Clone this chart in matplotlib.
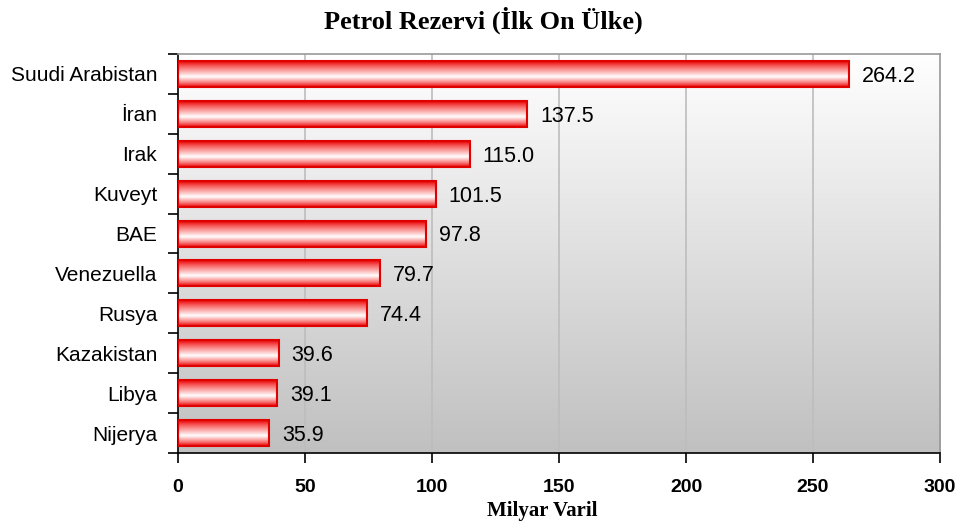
import numpy as np
import matplotlib
matplotlib.use("Agg")
import matplotlib.pyplot as plt
from matplotlib.colors import LinearSegmentedColormap
from matplotlib.patches import Rectangle

countries = ["Suudi Arabistan", "İran", "Irak", "Kuveyt", "BAE", "Venezuella",
             "Rusya", "Kazakistan", "Libya", "Nijerya"]
values = [264.2, 137.5, 115.0, 101.5, 97.8, 79.7, 74.4, 39.6, 39.1, 35.9]
xticks = [0, 50, 100, 150, 200, 250, 300]
title = "Petrol Rezervi (İlk On Ülke)"
xlabel = "Milyar Varil"

fig = plt.figure(figsize=(9.6, 5.22), dpi=100)
ax = fig.add_axes([0.1854, 0.1322, 0.7938, 0.7644])

n = len(countries)
ypos = np.arange(n)
ax.set_xlim(0, 300)
ax.set_ylim(n - 0.5, -0.5)

# background gradient
bg = LinearSegmentedColormap.from_list("bg", ["#ffffff", "#c0c0c0"])
grad = np.linspace(0, 1, 256).reshape(-1, 1)
ax.imshow(grad, cmap=bg, aspect="auto", extent=[0, 300, n - 0.5, -0.5],
          zorder=0, interpolation="bicubic")

for xv in xticks[1:-1]:
    ax.axvline(xv, color="#bdbdbd", lw=1.2, zorder=1)

bar_cmap = LinearSegmentedColormap.from_list(
    "bar", [(0, "#e80000"), (0.2, "#f86060"), (0.6, "#ffffff"), (0.85, "#f87070"), (1, "#e80000")])
bars = ax.barh(ypos, values, height=0.65, color="none", edgecolor="#e00000",
               lw=1.5, zorder=3)
for b in bars:
    x0, y0 = b.get_x(), b.get_y()
    w, h = b.get_width(), b.get_height()
    im = ax.imshow(grad, cmap=bar_cmap, aspect="auto",
                   extent=[x0, x0 + w, y0 + h, y0], zorder=2, interpolation="bicubic")
    im.set_clip_path(Rectangle((x0, y0), w, h, transform=ax.transData))

for y, v in zip(ypos, values):
    ax.text(v + 5.0, y + 0.06, f"{v:.1f}", va="center", ha="left",
            fontsize=15.5, family="Liberation Sans", zorder=4)

ax.set_xlim(0, 300)
ax.set_ylim(n - 0.5, -0.5)

ax.set_xticks(xticks)
ax.set_xticklabels([str(t) for t in xticks], fontsize=14, fontweight="bold",
                   family="Liberation Sans")
ax.tick_params(axis="x", direction="out", length=7, width=1.2, pad=12)

ax.set_yticks(ypos)
ax.set_yticklabels(countries, fontsize=15, family="Liberation Sans")
ax.tick_params(axis="y", length=0, pad=15)
ax.set_yticks(np.arange(n + 1) - 0.5, minor=True)
ax.tick_params(axis="y", which="minor", direction="out", length=7, width=1.2)

for s in ["left", "bottom"]:
    ax.spines[s].set_color("black")
    ax.spines[s].set_linewidth(1.2)
for s in ["top", "right"]:
    ax.spines[s].set_color("#999999")
    ax.spines[s].set_linewidth(1.2)

fig.text(0.503, 0.962, title, ha="center", va="center", fontsize=19,
         fontweight="bold", family="Liberation Serif")
fig.text(0.565, 0.021, xlabel, ha="center", va="center", fontsize=15,
         fontweight="bold", family="Liberation Serif")

fig.savefig("out.png", dpi=100)
